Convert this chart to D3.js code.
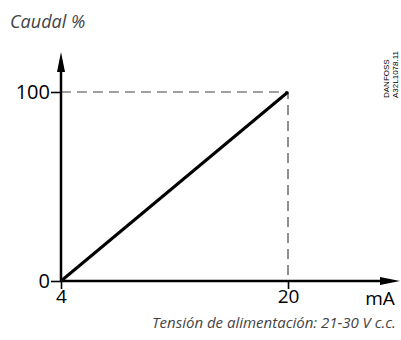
<!DOCTYPE html>
<html>
<head>
<meta charset="utf-8">
<script src="https://cdn.jsdelivr.net/npm/d3@7"></script>
<style>
  body { margin: 0; background: #fff; }
  svg { display: block; }
</style>
</head>
<body>
<div id="chart"></div>
<script>
var width = 401;
var height = 340;

// data
var xTicks = [4, 20];
var yTicks = [0, 100];
var current = [4, 20];     // mA
var flow = [0, 100];       // caudal %
var yTitle = 'Caudal %';
var xUnit = 'mA';
var caption = 'Tensión de alimentación: 21-30 V c.c.';
var stamp = ['DANFOSS', 'A32L1078.11'];

var x = d3.scaleLinear().domain([4, 20]).range([61, 288]);
var y = d3.scaleLinear().domain([0, 100]).range([281, 92]);

var svg = d3.select('#chart').append('svg')
    .attr('width', width)
    .attr('height', height);

var font = '"Open Sans", "Noto Sans", sans-serif';

// dashed guides
svg.append('path')
    .attr('d', 'M' + x(4) + ',' + y(100) + 'H' + x(20) + 'V' + y(0))
    .attr('fill', 'none')
    .attr('stroke', '#444')
    .attr('stroke-width', 1.2)
    .attr('stroke-dasharray', '10,6');

// y axis
var yAxis = svg.append('g')
    .attr('transform', 'translate(' + x(4) + ',0)')
    .call(d3.axisLeft(y).tickValues(yTicks).tickSize(10).tickPadding(1).tickFormat(d3.format('d')));
yAxis.select('.domain').remove();
yAxis.selectAll('line').attr('stroke', '#000').attr('stroke-width', 1.6);
yAxis.selectAll('text')
    .attr('font-family', font)
    .attr('font-size', 20)
    .attr('fill', '#000');

// x axis
var xAxis = svg.append('g')
    .attr('transform', 'translate(0,' + y(0) + ')')
    .call(d3.axisBottom(x).tickValues(xTicks).tickSize(8).tickPadding(1).tickFormat(d3.format('d')));
xAxis.select('.domain').remove();
xAxis.selectAll('line').attr('stroke', '#000').attr('stroke-width', 1.6);
xAxis.selectAll('text')
    .attr('font-family', font)
    .attr('font-size', 19)
    .attr('fill', '#000');

// axis lines with arrows
svg.append('line')
    .attr('x1', x(4)).attr('y1', y(0))
    .attr('x2', x(4)).attr('y2', 70)
    .attr('stroke', '#000').attr('stroke-width', 2.5);
svg.append('path')
    .attr('d', 'M' + (x(4) - 4) + ',72L' + x(4) + ',52L' + (x(4) + 4) + ',72Z')
    .attr('fill', '#000');

svg.append('line')
    .attr('x1', x(4)).attr('y1', y(0))
    .attr('x2', 382).attr('y2', y(0))
    .attr('stroke', '#000').attr('stroke-width', 2.5);
svg.append('path')
    .attr('d', 'M380,' + (y(0) - 4) + 'L400,' + y(0) + 'L380,' + (y(0) + 4) + 'Z')
    .attr('fill', '#000');

// data line
var line = d3.line()
    .x(function (d, i) { return x(current[i]); })
    .y(function (d) { return y(d); });
svg.append('path')
    .datum(flow)
    .attr('d', line)
    .attr('fill', 'none')
    .attr('stroke', '#000')
    .attr('stroke-width', 3);

// labels
svg.append('text')
    .attr('x', 10).attr('y', 28)
    .attr('font-family', font)
    .attr('font-style', 'italic')
    .attr('font-size', 18)
    .attr('fill', '#444')
    .text(yTitle);

svg.append('text')
    .attr('x', 380).attr('y', y(0) + 24)
    .attr('text-anchor', 'middle')
    .attr('font-family', font)
    .attr('font-size', 19)
    .attr('fill', '#000')
    .text(xUnit);

svg.append('text')
    .attr('x', 274).attr('y', 328)
    .attr('text-anchor', 'middle')
    .attr('font-family', font)
    .attr('font-style', 'italic')
    .attr('font-size', 15)
    .attr('fill', '#444')
    .text(caption);

// stamp, vertical
svg.append('g')
    .attr('transform', 'translate(389,98) rotate(-90)')
    .selectAll('text')
    .data(stamp)
    .enter()
    .append('text')
    .attr('x', 0)
    .attr('y', function (d, i) { return i * 9; })
    .attr('font-family', '"Liberation Sans", Arial, sans-serif')
    .attr('font-size', 8)
    .attr('fill', '#000')
    .text(function (d) { return d; });
</script>
</body>
</html>
